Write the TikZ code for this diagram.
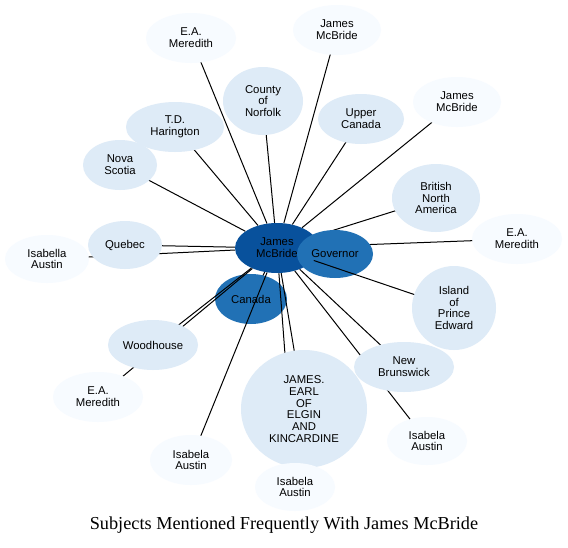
\documentclass[tikz,border=0pt]{standalone}
\usepackage{fontspec}
\setmainfont{Liberation Serif}
\newfontfamily\nodefont{Liberation Sans}
\usetikzlibrary{shapes.geometric}
\definecolor{bA}{HTML}{F7FBFF}
\definecolor{bB}{HTML}{DEEBF7}
\definecolor{bG}{HTML}{2171B5}
\definecolor{bH}{HTML}{08519C}
\pgfdeclarelayer{lzero}
\pgfdeclarelayer{lone}
\pgfdeclarelayer{ltwo}
\pgfdeclarelayer{lthree}
\pgfsetlayers{lzero,lone,ltwo,lthree,main}
\begin{document}
\begin{tikzpicture}[x=0.75pt,y=-0.75pt,
  nd/.style args={#1/#2}{ellipse,inner sep=0pt,draw=none,minimum width={#1*1.5pt},minimum height={#2*1.5pt},align=center,font=\nodefont\fontsize{8.5}{8.85}\selectfont},
  pale/.style={fill=bA},
  light/.style={fill=bB},
  mid/.style={fill=bG},
  dark/.style={fill=bH},
  lnk/.style={draw=black,line width=0.75pt}]
\useasboundingbox (0,0) rectangle (568,547);
\begin{pgfonlayer}{lzero}
\fill[white] (0,0) rectangle (568,547);
\end{pgfonlayer}
% central node and the two mid-blue nodes
\begin{pgfonlayer}{lone}
\node[nd=42/25,dark] (jm) at (277,248) {James\\McBride};
\end{pgfonlayer}
\begin{pgfonlayer}{ltwo}
\node[nd=38/24,mid] (gov) at (335,254) {Governor};
\node[nd=36/25,mid] (can) at (251,299) {Canada};
\end{pgfonlayer}
% other nodes
\node[nd=37/24,light] (que) at (125,245) {Quebec};
\node[nd=42/24,pale] (isal) at (47,259) {Isabella\\Austin};
\node[nd=45/25,light] (wood) at (153,345) {Woodhouse};
\node[nd=45/25,pale] (eamb) at (98,397) {E.A.\\Meredith};
\node[nd=41/25,pale] (isbl) at (191,460) {Isabela\\Austin};
\node[nd=63/59,light] (earl) at (304,409) {JAMES.\\EARL\\OF\\ELGIN\\AND\\KINCARDINE};
\node[nd=40/24,pale] (isb) at (295,487) {Isabela\\Austin};
\node[nd=50/25,light] (nb) at (404,367) {New\\Brunswick};
\node[nd=40/24,pale] (isbr) at (427,441) {Isabela\\Austin};
\node[nd=42/42,light] (ipe) at (454,308) {Island\\of\\Prince\\Edward};
\node[nd=45/25,pale] (eamr) at (517,239) {E.A.\\Meredith};
\node[nd=44/34,light] (bna) at (436,198) {British\\North\\America};
\node[nd=44/25,pale] (jmr) at (457,102) {James\\McBride};
\node[nd=43/25,light] (uc) at (361,119) {Upper\\Canada};
\node[nd=44/25,pale] (jmt) at (337,30) {James\\McBride};
\node[nd=40/34,light] (cn) at (263,101) {County\\of\\Norfolk};
\node[nd=45/25,pale] (eamt) at (191,38) {E.A.\\Meredith};
\node[nd=49/25,light] (td) at (175,127) {T.D.\\Harington};
\node[nd=37/25,light] (ns) at (120,165) {Nova\\Scotia};
% edges under the mid-blue nodes
\begin{pgfonlayer}{lone}
\draw[lnk] (jm) -- (bna.center);
\draw[lnk] (jm) -- (eamr.center);
\draw[lnk] (jm) -- (can.center);
\draw[lnk] (jm) -- (gov.center);
\end{pgfonlayer}
% edges over the mid-blue nodes
\begin{pgfonlayer}{lthree}
\draw[lnk] (jm) -- (ipe.center);
\draw[lnk] (jm) -- (isbl.center);
\draw[lnk] (jm) -- (wood.center);
\draw[lnk] (jm) -- (eamb.center);
\draw[lnk] (jm) -- (que.center);
\draw[lnk] (jm) -- (isal.center);
\draw[lnk] (jm) -- (earl.center);
\draw[lnk] (jm) -- (isb.center);
\draw[lnk] (jm) -- (nb.center);
\draw[lnk] (jm) -- (isbr.center);
\draw[lnk] (jm) -- (jmr.center);
\draw[lnk] (jm) -- (uc.center);
\draw[lnk] (jm) -- (jmt.center);
\draw[lnk] (jm) -- (cn.center);
\draw[lnk] (jm) -- (eamt.center);
\draw[lnk] (jm) -- (td.center);
\draw[lnk] (jm) -- (ns.center);
\end{pgfonlayer}
\node[font=\fontsize{13.7}{16}\selectfont,anchor=base,inner sep=0pt] (title) at (284,529) {Subjects Mentioned Frequently With James McBride};
\end{tikzpicture}
\end{document}
